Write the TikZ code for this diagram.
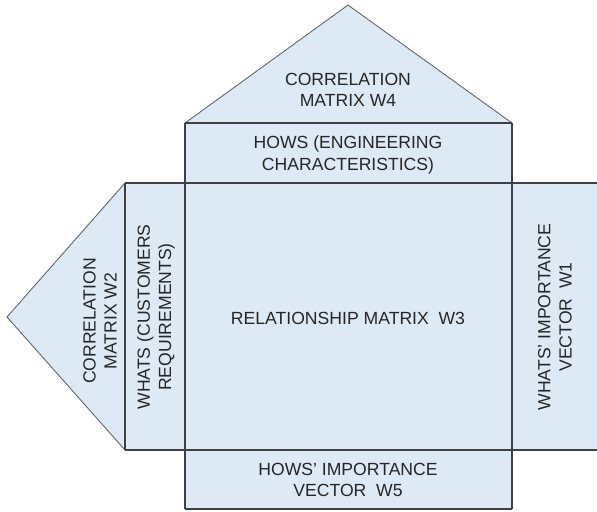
\documentclass[tikz,border=0pt]{standalone}
\usepackage{fontspec}
\setmainfont{Liberation Sans}

\definecolor{roomfill}{RGB}{222,233,246}
\definecolor{wallgray}{RGB}{64,64,64}

\tikzset{
  wall/.style={draw=wallgray, line width=0.6pt},
  roof/.style={draw=wallgray!80, line width=0.45pt},
  roomtext/.style={align=center, text=black!85, font=\fontsize{8.8}{10.6}\selectfont},
}

\begin{document}
\begin{tikzpicture}[x=0.5pt, y=-0.5pt]
  \useasboundingbox (0,0) rectangle (597,511);

  % the house outline
  \coordinate (roofL) at (185,123);
  \coordinate (roofR) at (512,123);
  \coordinate (apex)  at (348,5);
  \coordinate (sideT) at (125,183);
  \coordinate (sideB) at (125,450);
  \coordinate (tip)   at (7,317);

  \fill[roomfill] (roofL) -- (apex) -- (roofR) -- (512,183) -- (597,183)
      -- (597,450) -- (512,450) -- (512,509) -- (185,509) -- (185,450)
      -- (sideB) -- (tip) -- (sideT) -- (185,183) -- cycle;

  % roofs
  \draw[roof] (roofL) -- (apex) -- (roofR);
  \draw[roof] (sideT) -- (tip) -- (sideB);

  % walls
  \draw[wall] (roofL) -- (roofR);
  \draw[wall] (sideT) -- (597,183);
  \draw[wall] (sideB) -- (597,450);
  \draw[wall] (185,509) -- (512,509);
  \draw[wall] (roofL) -- (185,509);
  \draw[wall] (roofR) -- (512,509);
  \draw[wall] (sideT) -- (sideB);

  % labels
  \node[roomtext] (w4) at (348,90) {CORRELATION\\MATRIX W4};
  \node[roomtext] (hows) at (348,155) {HOWS (ENGINEERING\\CHARACTERISTICS)};
  \node[roomtext] (w3) at (348,318) {RELATIONSHIP MATRIX\ \ W3};
  \node[roomtext, rotate=90] (whats) at (156,317) {WHATS (CUSTOMERS\\REQUIREMENTS)};
  \node[roomtext, rotate=90] (w2) at (100,321) {CORRELATION\\MATRIX W2};
  \node[roomtext, rotate=90] (w1) at (555,317) {WHATS' IMPORTANCE\\VECTOR\ \ W1};
  \node[roomtext] (w5) at (348,480) {HOWS' IMPORTANCE\\VECTOR\ \ W5};
\end{tikzpicture}
\end{document}
